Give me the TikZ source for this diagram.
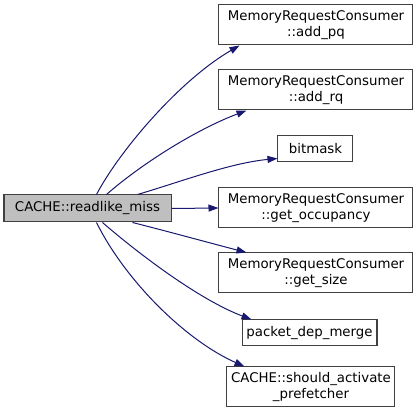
\documentclass[tikz,border=0pt]{standalone}
\usepackage{fontspec}
\setmainfont{DejaVu Sans}
\usetikzlibrary{arrows.meta,calc}
\definecolor{edgeblue}{HTML}{191970}
\definecolor{boxline}{HTML}{404040}
\definecolor{rootfill}{HTML}{BFBFBF}
\begin{document}
\begin{tikzpicture}[x=0.75pt,y=-0.75pt,
  fn/.style={draw=boxline,line width=0.75pt,fill=white,inner sep=0pt,align=center,
    font=\fontsize{10pt}{12pt}\selectfont,text=black},
  call/.style={draw=edgeblue,line width=0.75pt,-{Triangle[length=7.5pt,width=5.25pt]},fill=none}]
\useasboundingbox (0,0) rectangle (419,417);
\fill[white] (0,0) rectangle (419,417);
\node[fn,fill=rootfill,minimum width=125.25pt,minimum height=20.25pt] (root) at (87.5,208.5) {CACHE::readlike\_miss};
\node[fn,minimum width=145.5pt,minimum height=30pt] (pq) at (316,25) {MemoryRequestConsumer\\::add\_pq};
\node[fn,minimum width=145.5pt,minimum height=30pt] (rq) at (316,90) {MemoryRequestConsumer\\::add\_rq};
\node[fn,minimum width=56.25pt,minimum height=19.5pt] (bm) at (315.5,149) {bitmask};
\node[fn,minimum width=145.5pt,minimum height=30pt] (occ) at (316,208) {MemoryRequestConsumer\\::get\_occupancy};
\node[fn,minimum width=145.5pt,minimum height=30pt] (size) at (316,273) {MemoryRequestConsumer\\::get\_size};
\node[fn,minimum width=101.25pt,minimum height=19.5pt] (pdm) at (309.5,333) {packet\_dep\_merge};
\node[fn,minimum width=126pt,minimum height=30pt] (sap) at (311,387) {CACHE::should\_activate\\\_prefetcher};
\draw[call] ($(root.north west)+(93,0)$) .. controls (120,150) and (180,80) .. ($(pq.south west)+(21,0)$);
\draw[call] ($(root.north west)+(103,0)$) .. controls (140,165) and (195,130) .. ($(rq.south west)+(28,0)$);
\draw[call] ($(root.north west)+(134,0)$) .. controls (180,182) and (230,163) .. ($(bm.south west)+(0,-4)$);
\draw[call] (root.east) -- (occ.west);
\draw[call] ($(root.south west)+(129,0)$) .. controls (170,232) and (210,243) .. ($(size.north west)+(28,0)$);
\draw[call] ($(root.south west)+(99,0)$) .. controls (140,255) and (200,300) .. ($(pdm.north west)+(10,0)$);
\draw[call] ($(root.south west)+(93,0)$) .. controls (125,280) and (185,340) .. ($(sap.north west)+(18,0)$);
\end{tikzpicture}
\end{document}
